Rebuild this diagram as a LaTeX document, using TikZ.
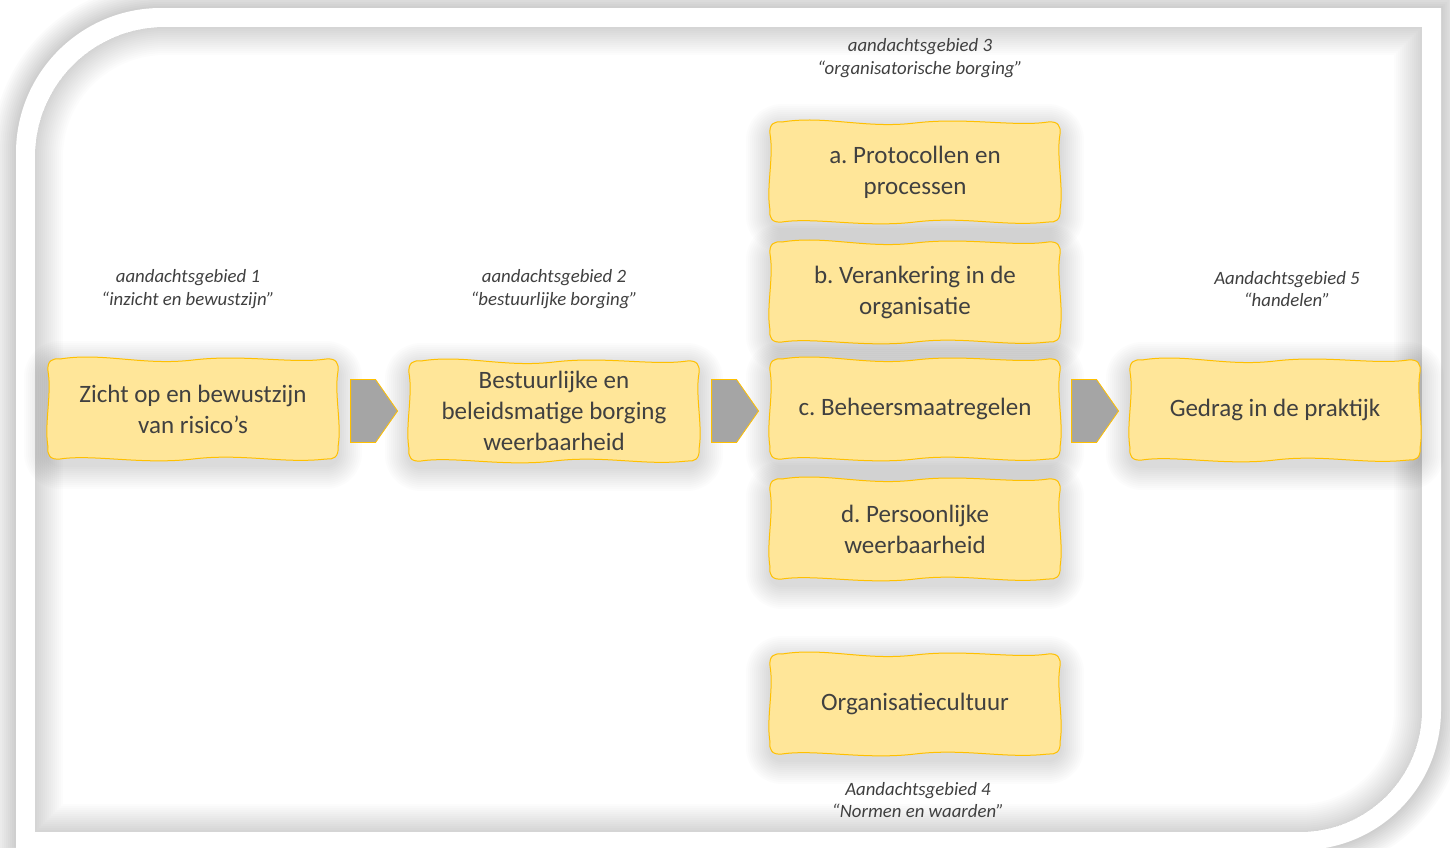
\documentclass[tikz,border=0pt]{standalone}
\usepackage{fontspec}
\setmainfont{Carlito}
\frenchspacing
\usetikzlibrary{shapes.symbols,calc}
\definecolor{boxfill}{HTML}{FFE699}
\definecolor{boxline}{HTML}{FFC000}
\definecolor{txt}{HTML}{404040}
\definecolor{arrowfill}{HTML}{A5A5A5}
\pgfdeclarelayer{back}
\pgfdeclarelayer{bg}
\pgfsetlayers{back,bg,main}
\newcommand\outerframe{(16,850) -- (16,153) arc[start angle=180,end angle=270,radius=145] -- (1441,8) -- (1441,710) arc[start angle=0,end angle=90,radius=140] -- (1301,850) -- cycle}
\newcommand\innerframe{(35,832) -- (35,157) arc[start angle=180,end angle=270,radius=130] -- (1422,27) -- (1422,710) arc[start angle=0,end angle=90,radius=122] -- (1300,832) -- cycle}
\tikzset{
  stepbox/.style={align=center, text=txt, font=\fontsize{25}{31}\selectfont,
    minimum width=290, minimum height=100, inner sep=0pt},
  areatext/.style={align=center, text=txt, font=\itshape\fontsize{18.8}{22.5}\selectfont, inner sep=0pt},
  chev/.style={signal, signal to=east, signal pointer angle=110, fill=arrowfill,
    draw=boxline, line width=0.8pt, minimum width=47, minimum height=63, inner sep=0pt, anchor=west},
  pics/wavy/.style={code={
    \foreach \s in {2,4,...,24}
      \fill[black, opacity=0.011, rounded corners=12+\s] (-145-\s,-50-\s+6) rectangle (145+\s,50+\s+6);
    \filldraw[fill=boxfill, draw=boxline, line width=1pt]
      (-133,-50) .. controls (-90,-57) and (-50,-43) .. (0,-49)
      .. controls (50,-55) and (100,-45) .. (133,-50)
      .. controls (143,-51) and (146,-46) .. (145,-38)
      .. controls (141,-15) and (149,15) .. (145,38)
      .. controls (146,48) and (140,51) .. (133,50)
      .. controls (90,55) and (50,44) .. (0,50)
      .. controls (-50,56) and (-100,45) .. (-133,50)
      .. controls (-143,51) and (-146,46) .. (-145,38)
      .. controls (-149,15) and (-141,-15) .. (-145,-38)
      .. controls (-146,-48) and (-141,-51) .. (-133,-50) -- cycle;
  }}
}
\begin{document}
\begin{tikzpicture}[x=1pt,y=-1pt]
\useasboundingbox (0,0) rectangle (1450,847);
% background and frame
\begin{pgfonlayer}{back}
\fill[white] (0,0) rectangle (1450,847);
\foreach \w in {4,8,...,48}
  \draw[black, opacity=0.016, line width=\w] \outerframe;
\fill[white] \outerframe;
\fill[white] \innerframe;
\begin{scope}
  \clip \innerframe;
  \foreach \w in {4,8,...,56}
    \draw[black, opacity=0.011, line width=\w] \innerframe;
\end{scope}
\end{pgfonlayer}

% boxes
\node[stepbox] (b1) at (193,409) {Zicht op en bewustzijn\\van risico’s};
\node[stepbox] (b2) at (554,411) {Bestuurlijke en\\beleidsmatige borging\\weerbaarheid};
\node[stepbox] (ba) at (915,172) {a. Protocollen en\\processen};
\node[stepbox] (bb) at (915,292) {b. Verankering in de\\organisatie};
\node[stepbox] (bc) at (915,409) {c. Beheersmaatregelen};
\node[stepbox] (bd) at (915,529) {d. Persoonlijke\\weerbaarheid};
\node[stepbox] (bo) at (915,704) {Organisatiecultuur};
\node[stepbox] (b5) at (1275,410) {Gedrag in de praktijk};

\begin{pgfonlayer}{bg}
  \foreach \n in {b1,b2,ba,bb,bc,bd,bo,b5}
    \pic at (\n.center) {wavy};
\end{pgfonlayer}

% chevrons
\node[chev] (c1) at ($(b1.east)+(12,2)$) {};
\node[chev] (c2) at ($(b2.east)+(12,0)$) {};
\node[chev] (c3) at ($(bc.east)+(11,2)$) {};

% labels
\node[areatext] (l1) at (188,289) {aandachtsgebied 1\\“inzicht en bewustzijn”};
\node[areatext] (l2) at (554,289) {aandachtsgebied 2\\“bestuurlijke borging”};
\node[areatext] (l3) at (920,58) {aandachtsgebied 3\\“organisatorische borging”};
\node[areatext] (l5) at (1287,289) {Aandachtsgebied 5\\“handelen”};
\node[areatext] (l4) at (918,800) {Aandachtsgebied 4\\“Normen en waarden”};
\end{tikzpicture}
\end{document}
